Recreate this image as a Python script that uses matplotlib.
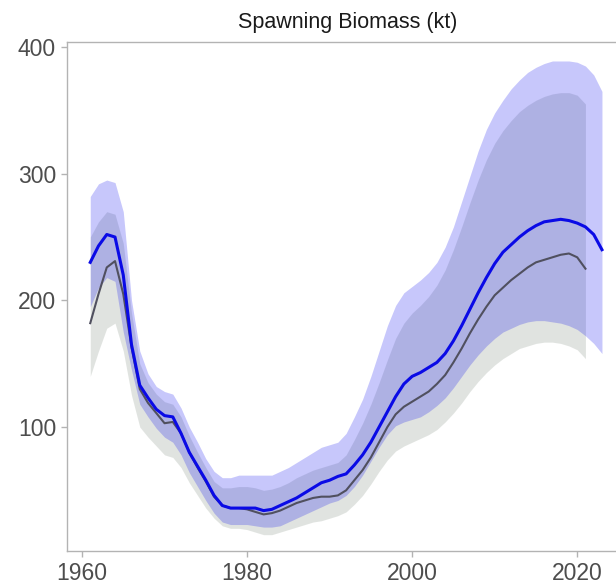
import numpy as np
import matplotlib
matplotlib.use("Agg")
import matplotlib.pyplot as plt

plt.rcParams["font.family"] = ["Liberation Sans", "DejaVu Sans"]

# years of the two model runs
years_blue = list(range(1961, 2024))
years_gray = list(range(1961, 2022))

# blue run: median and interval
blue_mid = [230, 243, 252, 250, 220, 165, 133, 123, 114, 109, 108, 95, 80, 69, 58, 46, 38, 36,
            36, 36, 36, 34, 35, 38, 41, 44, 48, 52, 56, 58, 61, 63, 70, 78, 88, 100, 112, 124, 134,
            140, 143, 147, 151, 158, 168, 180, 193, 206, 218, 229, 238, 244, 250, 255, 259, 262,
            263, 264, 263, 261, 258, 252, 240]
blue_hi = [282, 292, 295, 293, 270, 200, 160, 142, 132, 128, 126, 115, 100, 88, 75, 65, 60, 60,
           62, 62, 62, 62, 62, 65, 68, 72, 76, 80, 84, 86, 88, 95, 108, 122, 140, 160, 180, 196,
           206, 211, 216, 222, 230, 242, 258, 278, 298, 318, 335, 348, 358, 367, 374, 380, 384,
           387, 389, 389, 389, 388, 385, 378, 365]
blue_lo = [195, 210, 218, 215, 175, 145, 118, 108, 99, 92, 88, 78, 64, 53, 42, 32, 25, 23, 23, 23,
           22, 21, 21, 22, 25, 28, 31, 34, 37, 40, 42, 46, 53, 62, 73, 84, 94, 101, 104, 106, 108,
           112, 117, 123, 131, 140, 149, 157, 164, 170, 175, 178, 181, 183, 184, 184, 183, 182,
           180, 177, 172, 166, 158]

# gray run: median and interval
gray_mid = [182, 205, 226, 231, 205, 163, 130, 119, 111, 103, 104, 95, 80, 68, 57, 45, 38, 36, 36,
            35, 33, 31, 32, 34, 37, 40, 42, 44, 45, 45, 46, 50, 58, 66, 76, 88, 100, 110, 116, 120,
            124, 128, 134, 141, 151, 162, 174, 185, 195, 204, 210, 216, 221, 226, 230, 232, 234,
            236, 237, 234, 225]
gray_hi = [250, 262, 270, 268, 245, 190, 150, 135, 126, 120, 118, 108, 93, 80, 68, 57, 52, 52, 53,
           53, 52, 50, 51, 53, 56, 60, 63, 66, 68, 70, 72, 78, 90, 103, 118, 135, 153, 170, 182,
           190, 196, 203, 212, 224, 240, 258, 277, 295, 311, 324, 334, 342, 349, 354, 358, 361,
           363, 364, 364, 362, 355]
gray_lo = [140, 160, 178, 182, 160, 125, 100, 92, 85, 78, 76, 68, 56, 46, 36, 28, 22, 20, 20, 19,
           17, 15, 15, 17, 19, 21, 23, 25, 26, 28, 30, 33, 39, 46, 55, 65, 74, 81, 85, 88, 91, 94,
           98, 104, 111, 119, 128, 136, 143, 149, 154, 158, 162, 164, 166, 167, 167, 166, 164,
           161, 154]

fig = plt.figure(figsize=(6.16, 5.88), dpi=100)
ax = fig.add_axes([0.109, 0.0629, 0.891, 0.8657])

ax.fill_between(years_gray, gray_lo, gray_hi, color="#c3c9c3", alpha=0.5, linewidth=0)
ax.fill_between(years_blue, blue_lo, blue_hi, color="#0000f0", alpha=0.22, linewidth=0)
ax.plot(years_gray, gray_mid, color="#50505f", linewidth=1.5)
ax.plot(years_blue, blue_mid, color="#0a0ae6", linewidth=2.2)

ax.set_xlim(1958.2, 2024.7)
ax.set_ylim(2.1, 404)
ax.set_xticks([1960, 1980, 2000, 2020])
ax.set_yticks([100, 200, 300, 400])
# axes runs past the right edge of the picture, so centre the title a bit right
ax.set_title("Spawning Biomass (kt)", fontsize=15.5, color="#1a1a1a", x=0.512, pad=10)

for side in ["left", "bottom", "top"]:
    ax.spines[side].set_color("#b3b3b3")
    ax.spines[side].set_linewidth(1.0)
ax.spines["right"].set_visible(False)
ax.tick_params(colors="#b3b3b3", labelcolor="#4d4d4d", labelsize=16.5, length=4.5, width=1.0)

plt.savefig("out.png", dpi=100)
